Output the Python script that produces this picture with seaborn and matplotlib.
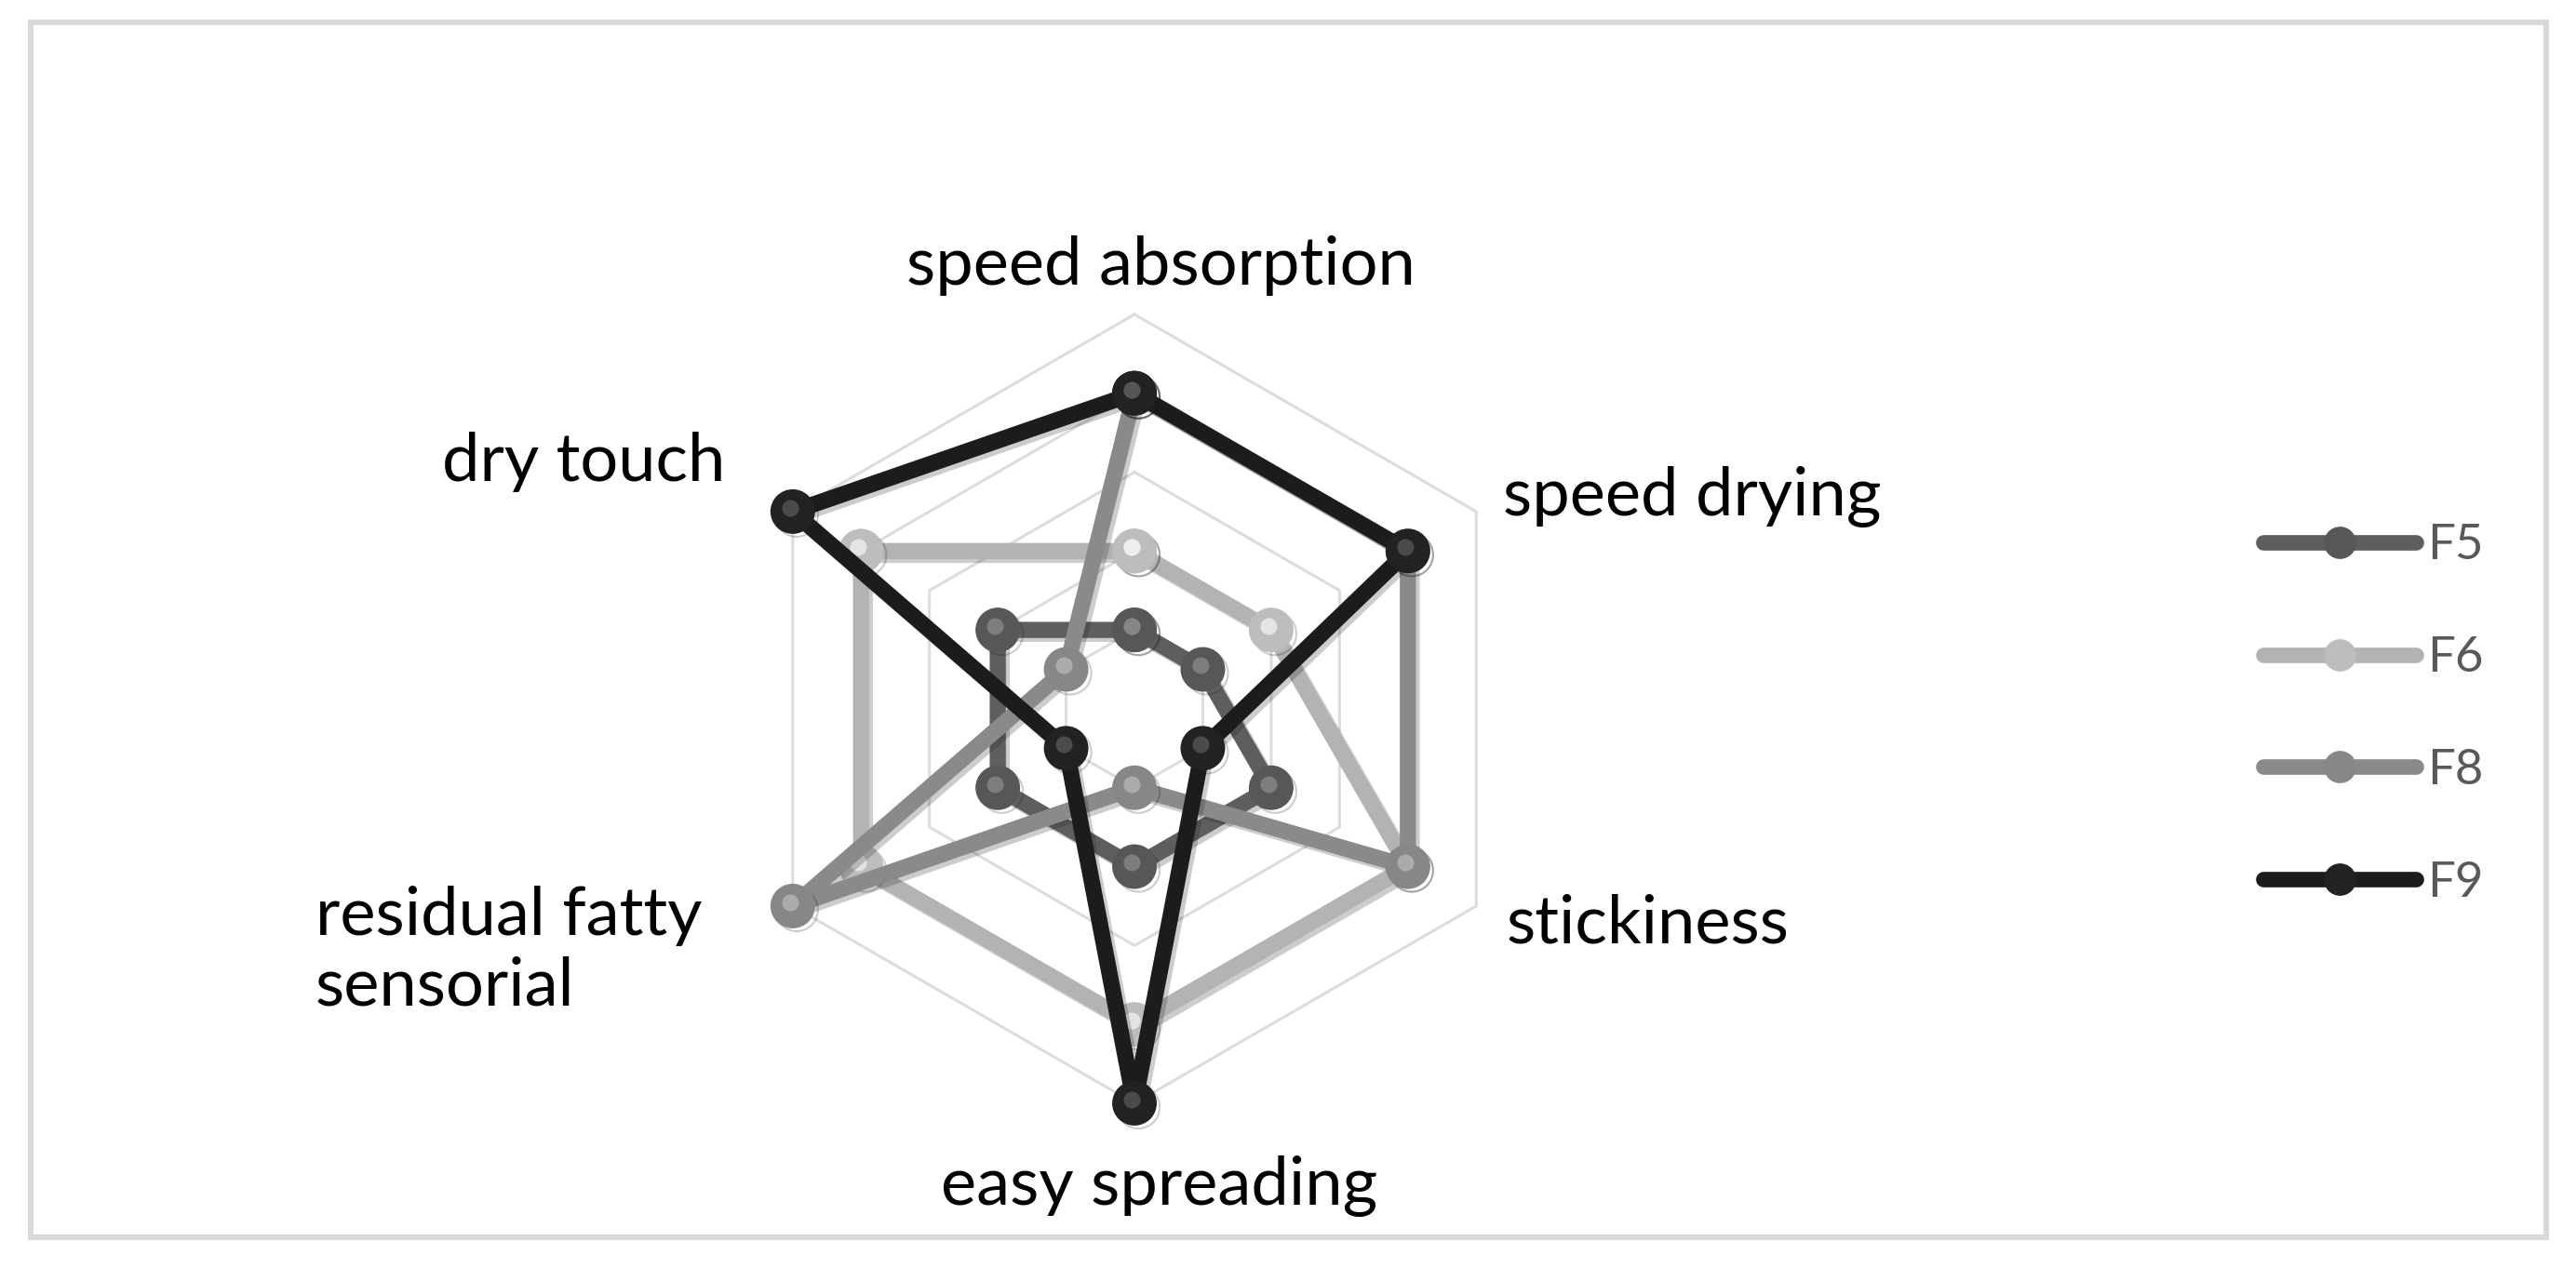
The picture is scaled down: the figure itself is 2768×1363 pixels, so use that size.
import numpy as np
import pandas as pd
import matplotlib.pyplot as plt
import matplotlib.patheffects as pe
import matplotlib.transforms as mtransforms
from matplotlib.lines import Line2D
from matplotlib.patches import Rectangle
import seaborn as sns

# Sensory scores (scale 0-5)
categories = ["speed absorption", "speed drying", "stickiness",
              "easy spreading", "residual fatty\nsensorial", "dry touch"]
f5 = [1, 1, 2, 2, 2, 2]
f6 = [2, 2, 4, 4, 4, 4]
f8 = [4, 4, 4, 1, 5, 1]
f9 = [4, 4, 1, 5, 1, 5]
series_names = ["F5", "F6", "F8", "F9"]
line_colors = ["#5e5e5e", "#b3b3b3", "#8a8a8a", "#1c1c1c"]
ball_colors = ["#575757", "#bdbdbd", "#878787", "#222222"]
shine_colors = ["#8a8a8a", "#f2f2f2", "#b8b8b8", "#5a5a5a"]
ring_levels = [1, 2, 3, 4, 5]

sns.set_theme(style="white")
plt.rcParams["font.family"] = ["Lato", "DejaVu Sans"]

W, H = 2768, 1363


def fpos(x, y):
    # pixel position in the picture -> figure fraction
    return x / W, 1 - y / H


# one angle per category, clockwise from the top, loop closed
n = len(categories)
angles = np.arange(n) * 2 * np.pi / n
angles_closed = np.append(angles, 2 * np.pi)

rows = []
for name, vals in zip(series_names, [f5, f6, f8, f9]):
    for a, v in zip(angles_closed, vals + vals[:1]):
        rows.append({"formulation": name, "angle": a, "score": v})
df = pd.DataFrame(rows)

fig = plt.figure(figsize=(W / 100, H / 100), dpi=100)
ax = fig.add_axes([0.2872, 0.1299, 0.3064, 0.6222], projection="polar")
ax.set_theta_offset(np.pi / 2)
ax.set_theta_direction(-1)
ax.grid(False)
ax.set_xticks([])
ax.set_yticks([])
ax.spines["polar"].set_visible(False)
ax.patch.set_alpha(0)

# hexagonal grid rings
for r in ring_levels:
    ax.plot(angles_closed, [r] * (n + 1), color="#dcdcdc", lw=2.2,
            zorder=1, clip_on=False)

n_before = len(ax.lines)
sns.lineplot(data=df, x="angle", y="score", hue="formulation",
             palette=line_colors, sort=False, estimator=None,
             marker="o", markersize=33, linewidth=12.5, legend=False, ax=ax)
series_lines = ax.lines[n_before:]

for line, ball in zip(series_lines, ball_colors):
    line.set_markerfacecolor(ball)
    line.set_markeredgecolor(ball)
    line.set_markeredgewidth(1.5)
    line.set_clip_on(False)
    line.set_path_effects([
        pe.SimpleLineShadow(offset=(3, -3), shadow_color="k", alpha=0.22),
        pe.Normal(),
    ])

# small shine spot on each ball, drawn right after its own series
shine_tr = mtransforms.offset_copy(ax.transData, fig=fig, x=-2, y=3,
                                   units="points")
for i, (name, shine) in enumerate(zip(series_names, shine_colors)):
    sub = df[df["formulation"] == name]
    ax.plot(sub["angle"], sub["score"], ls="none", marker="o",
            markersize=13, markerfacecolor=shine, markeredgewidth=0,
            alpha=0.75, transform=shine_tr, clip_on=False,
            zorder=series_lines[i].get_zorder() + 0.01 * (i + 1))
    series_lines[i].set_zorder(series_lines[i].get_zorder() + 0.01 * (i + 1) - 0.005)

ax.set_ylim(0, 5)
ax.set_xlabel("")
ax.set_ylabel("")

# category labels
lab_kw = dict(fontsize=52, color="#000000")
fig.text(*fpos(1247, 285), categories[0], ha="center", va="center", **lab_kw)
fig.text(*fpos(1615, 534), categories[1], ha="left", va="center", **lab_kw)
fig.text(*fpos(1619, 993), categories[2], ha="left", va="center", **lab_kw)
fig.text(*fpos(1246, 1275), categories[3], ha="center", va="center", **lab_kw)
fig.text(*fpos(339, 1022), categories[4], ha="left", va="center",
         linespacing=1.2, **lab_kw)
fig.text(*fpos(627, 496), categories[5], ha="center", va="center", **lab_kw)

# legend on the right
handles = [
    Line2D([], [], color=c, lw=12, marker="o", markersize=24,
           markerfacecolor=b, markeredgecolor=b)
    for c, b in zip(line_colors, ball_colors)
]
fig.legend(handles, series_names, loc="center left",
           bbox_to_anchor=fpos(2432, 768), frameon=False,
           fontsize=38, labelcolor="#595959", handlelength=3.1,
           handletextpad=0.23, labelspacing=1.4, borderpad=0,
           borderaxespad=0)

# light grey chart border
x0, y0 = fpos(33, 1330)
x1, y1 = fpos(2736, 24)
fig.patches.append(Rectangle((x0, y0), x1 - x0, y1 - y0,
                             transform=fig.transFigure, fill=False,
                             edgecolor="#d9d9d9", linewidth=4.3))

fig.savefig("out.png", dpi=100, facecolor="white")
